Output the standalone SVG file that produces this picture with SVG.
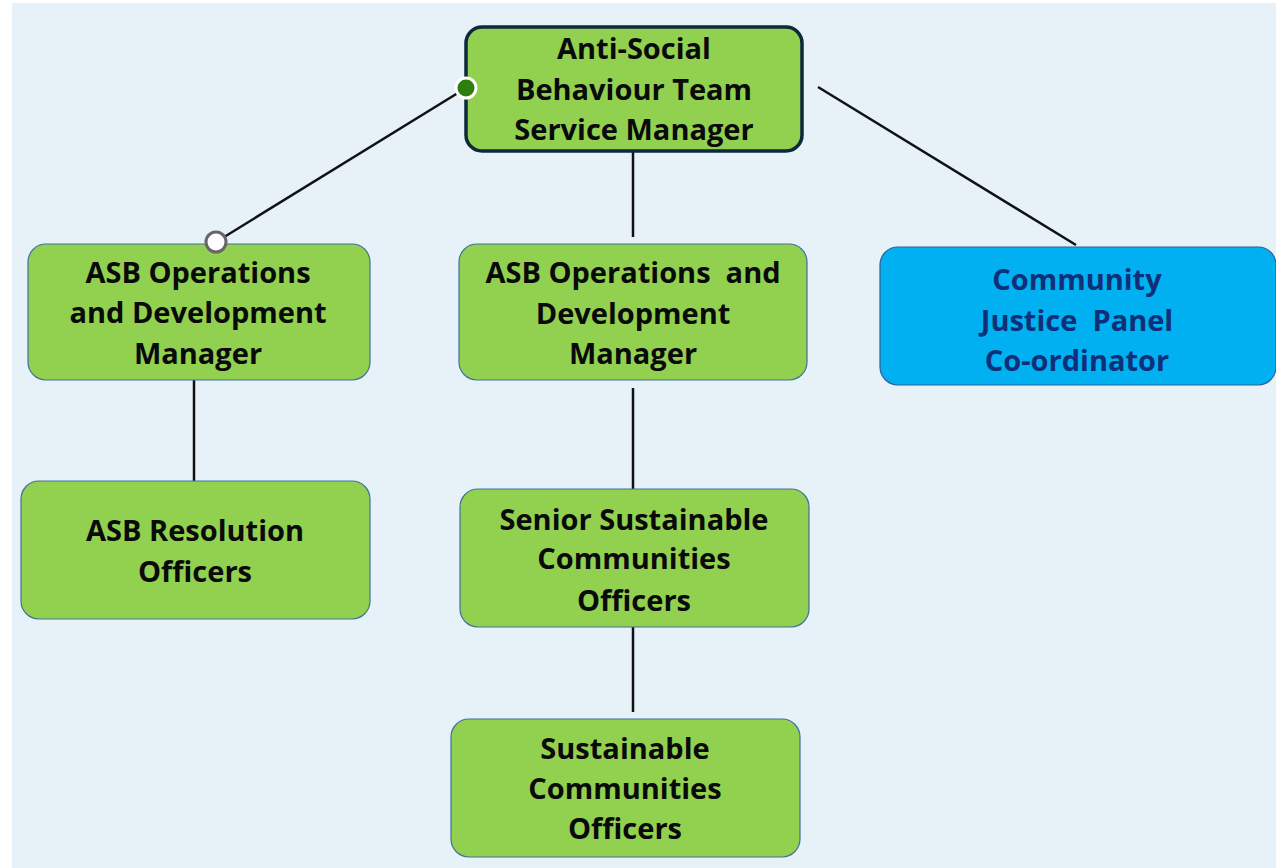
<svg xmlns="http://www.w3.org/2000/svg" width="1276" height="868" viewBox="0 0 1276 868">
<style>
.n{fill:#92d050;stroke:#41719c;stroke-width:1.2}
.t{font-family:"Open Sans","Liberation Sans",sans-serif;font-weight:bold;font-size:29px;fill:#0a0a0a;text-anchor:middle;dominant-baseline:central}
.b{fill:#00b0f0;stroke:#2f5f9a;stroke-width:1.2}
.tb{fill:#0f2f78}
.c{stroke:#111;stroke-width:2.5;fill:none}
</style>
<rect x="0" y="0" width="1276" height="868" fill="#ffffff"/>
<rect x="12" y="3" width="1264" height="865" fill="#e7f2f8"/>
<g id="connectors">
<line class="c" x1="466" y1="88" x2="216" y2="242"/>
<line class="c" x1="633" y1="151" x2="633" y2="237"/>
<line class="c" x1="818" y1="87" x2="1076" y2="245"/>
<line class="c" x1="194" y1="380" x2="194" y2="481"/>
<line class="c" x1="633" y1="388" x2="633" y2="489"/>
<line class="c" x1="633" y1="627" x2="633" y2="712"/>
</g>
<g id="top">
<rect x="466" y="27" width="336" height="124" rx="16" fill="#92d050" stroke="#0d2a3c" stroke-width="3.5"/>
<text class="t" x="634" y="47">Anti-Social</text>
<text class="t" x="634" y="88" xml:space="preserve">Behaviour Team</text>
<text class="t" x="634" y="128">Service Manager</text>
</g>
<g id="ops1">
<rect class="n" x="28" y="244" width="342" height="136" rx="18"/>
<text class="t" x="198" y="271">ASB Operations</text>
<text class="t" x="198" y="311">and Development</text>
<text class="t" x="198" y="352">Manager</text>
</g>
<g id="ops2">
<rect class="n" x="459" y="244" width="348" height="136" rx="18"/>
<text class="t" x="633" y="271" xml:space="preserve">ASB Operations  and</text>
<text class="t" x="633" y="312">Development</text>
<text class="t" x="633" y="352">Manager</text>
</g>
<g id="cjp">
<rect class="b" x="880" y="247" width="396" height="138" rx="18"/>
<text class="t tb" x="1077" y="278">Community</text>
<text class="t tb" x="1077" y="319" xml:space="preserve">Justice  Panel</text>
<text class="t tb" x="1077" y="359">Co-ordinator</text>
</g>
<g id="res">
<rect class="n" x="21" y="481" width="349" height="138" rx="18"/>
<text class="t" x="195" y="529">ASB Resolution</text>
<text class="t" x="195" y="570">Officers</text>
</g>
<g id="ssco">
<rect class="n" x="460" y="489" width="349" height="138" rx="18"/>
<text class="t" x="634" y="518">Senior Sustainable</text>
<text class="t" x="634" y="557">Communities</text>
<text class="t" x="634" y="599">Officers</text>
</g>
<g id="sco">
<rect class="n" x="451" y="719" width="349" height="138" rx="18"/>
<text class="t" x="625" y="747">Sustainable</text>
<text class="t" x="625" y="787">Communities</text>
<text class="t" x="625" y="827">Officers</text>
</g>
<g id="handles">
<circle cx="466" cy="88" r="10" fill="#2e7d0e" stroke="#ffffff" stroke-width="3"/>
<circle cx="216" cy="242" r="10" fill="#ffffff" stroke="#666666" stroke-width="3"/>
</g>
</svg>
